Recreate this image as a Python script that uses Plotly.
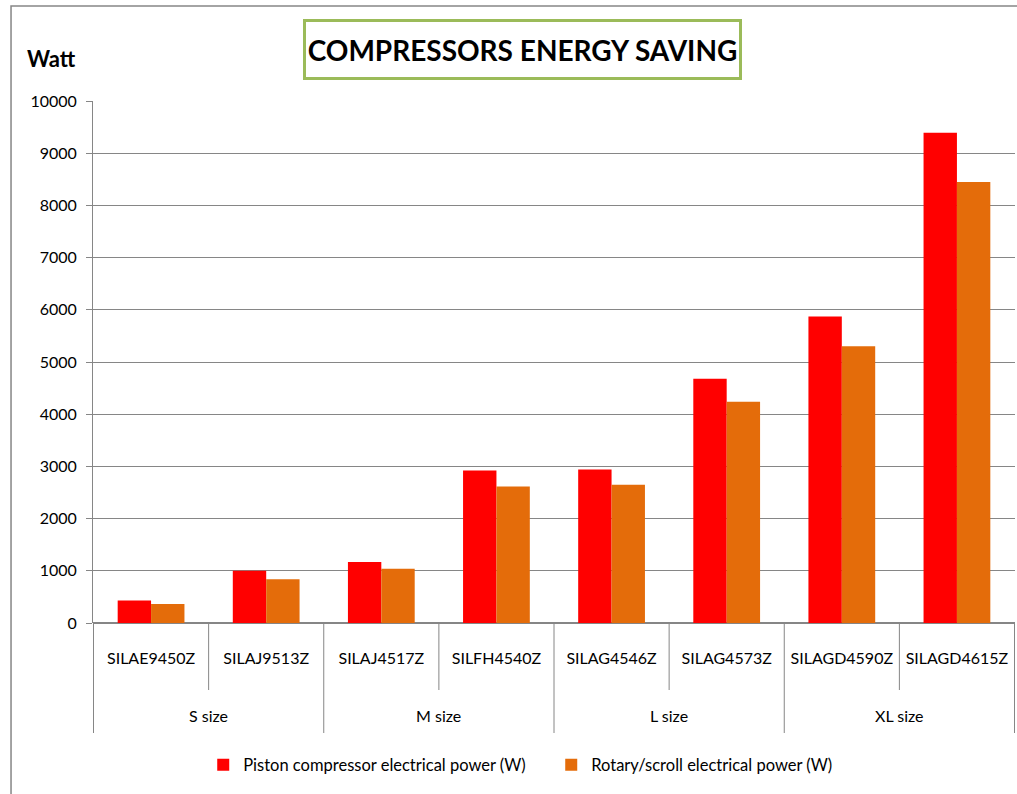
import plotly.graph_objects as go

sizes = ["S size", "S size", "M size", "M size", "L size", "L size", "XL size", "XL size"]
models = ["SILAE9450Z", "SILAJ9513Z", "SILAJ4517Z", "SILFH4540Z",
          "SILAG4546Z", "SILAG4573Z", "SILAGD4590Z", "SILAGD4615Z"]
piston = [430, 1000, 1170, 2920, 2940, 4680, 5870, 9390]
rotary = [365, 840, 1040, 2615, 2650, 4240, 5300, 8450]
y_ticks = [0, 1000, 2000, 3000, 4000, 5000, 6000, 7000, 8000, 9000, 10000]

FONT = "Lato, Open Sans, sans-serif"
GRID = "#868686"
PLOT_H = 522  # plot area height in px (for paper-unit conversions)

fig = go.Figure()
fig.add_trace(go.Bar(x=models, y=piston, name="Piston compressor electrical power (W)",
                     marker=dict(color="#FF0000", line=dict(width=0))))
fig.add_trace(go.Bar(x=models, y=rotary, name="Rotary/scroll electrical power (W)",
                     marker=dict(color="#E46C0A", line=dict(width=0))))

fig.update_layout(
    width=1017, height=794,
    margin=dict(l=93, r=2, t=101, b=171),
    paper_bgcolor="white", plot_bgcolor="white",
    font=dict(family=FONT, size=16, color="black"),
    barmode="group", bargap=0.42, bargroupgap=0,
    showlegend=True,
    legend=dict(orientation="h", x=0.497, xanchor="center", y=-0.272, yanchor="middle",
                font=dict(size=16.5, family=FONT), entrywidth=303, entrywidthmode="pixels"),
    xaxis=dict(type="category", showline=False, ticks="", showgrid=False,
               ticklabelstandoff=24, tickfont=dict(size=16, family=FONT)),
    yaxis=dict(range=[0, 10000], tickvals=y_ticks, ticktext=[str(v) for v in y_ticks],
               showgrid=True, gridcolor=GRID, gridwidth=1,
               showline=True, linecolor=GRID, linewidth=1, ticks="outside", ticklen=6,
               tickcolor=GRID, zeroline=True, zerolinecolor=GRID, zerolinewidth=1.5,
               ticklabelstandoff=6, tickfont=dict(size=16, family=FONT)),
)

# category separators: short lines between models, long lines between size groups
for i in range(len(models) + 1):
    is_group_edge = i == 0 or i == len(models) or sizes[i] != sizes[i - 1]
    length = 110 if is_group_edge else 67
    fig.add_shape(type="line", xref="x", yref="paper", x0=i - 0.5, x1=i - 0.5,
                  y0=0, y1=-length / PLOT_H, line=dict(color=GRID, width=1))

# group labels
groups = []
for i, s in enumerate(sizes):
    if not groups or groups[-1][0] != s:
        groups.append([s, i, i])
    else:
        groups[-1][2] = i
for name, a, b in groups:
    fig.add_annotation(text=name, xref="x", yref="paper", x=(a + b) / 2, y=-92 / PLOT_H,
                       xanchor="center", yanchor="middle", showarrow=False,
                       font=dict(size=16, family=FONT, color="black"))

fig.add_annotation(text="<b>COMPRESSORS ENERGY SAVING</b>", xref="paper", yref="paper",
                   x=0.466, y=1.0996, xanchor="center", yanchor="middle", showarrow=False,
                   font=dict(size=28, family=FONT, color="black"),
                   bordercolor="#9BBB59", borderwidth=3, borderpad=0, bgcolor="white",
                   width=433, height=55)
fig.add_annotation(text="<b>Watt</b>", xref="paper", yref="paper", x=-0.0445, y=1.082,
                   xanchor="center", yanchor="middle", showarrow=False,
                   font=dict(size=22, family=FONT, color="black"))
fig.add_shape(type="rect", xref="paper", yref="paper", x0=-0.0889, y0=-0.5, x1=1.2, y1=1.182,
              line=dict(color=GRID, width=1.5), layer="below")

fig.write_html("out.html", config={"displayModeBar": False},
               post_script="document.body.style.margin='0';")
